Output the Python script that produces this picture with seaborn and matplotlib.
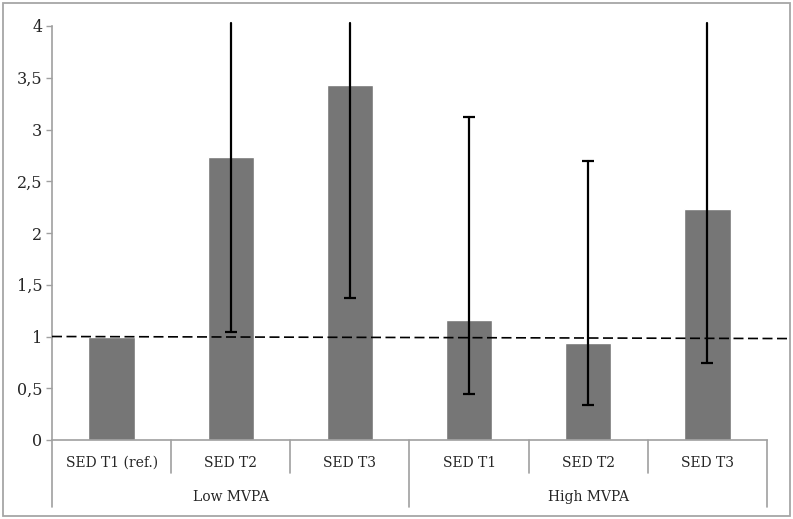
import numpy as np
import pandas as pd
import matplotlib
matplotlib.use("Agg")
import matplotlib.pyplot as plt
import matplotlib.patches as mpatches
import matplotlib.transforms as mtrans
import seaborn as sns

# values (odds ratios with 95% CI)
groups = ["Low MVPA", "Low MVPA", "Low MVPA", "High MVPA", "High MVPA", "High MVPA"]
labels = ["SED T1 (ref.)", "SED T2", "SED T3", "SED T1", "SED T2", "SED T3"]
odds = [1.00, 2.73, 3.43, 1.16, 0.94, 2.23]
ci_low = [1.00, 1.04, 1.37, 0.44, 0.34, 0.74]
# upper limits above 4 run off the top of the reference plot, drawn to its edge
ci_high = [1.00, 4.03, 4.03, 3.12, 2.70, 4.03]
ref_value = 1.0
yticks = [0, 0.5, 1, 1.5, 2, 2.5, 3, 3.5, 4]

sns.set_style("white")
plt.rcParams["font.family"] = ["DejaVu Serif"]

df = pd.DataFrame({"key": [g + " " + l for g, l in zip(groups, labels)], "odds": odds})

fig = plt.figure(figsize=(7.93, 5.19), dpi=100)
W, H = 793, 519
ax = fig.add_axes([52 / W, 1 - 440 / H, (767 - 52) / W, (440 - 26) / H])

sns.barplot(data=df, x="key", y="odds", order=list(df["key"]), color="#767676",
            saturation=1, width=0.39, ax=ax)

ax.set_xlim(-0.5, len(odds) - 0.5)
ax.set_ylim(0, 4)
ax.set_yticks(yticks)
ax.set_yticklabels([("%g" % t).replace(".", ",") for t in yticks], fontsize=11.5)
ax.set_xticks([])
ax.set_xlabel("")
ax.set_ylabel("")
ax.tick_params(axis="y", left=True, length=4, width=1, color="#a0a0a0", pad=3)

for side in ["top", "right"]:
    ax.spines[side].set_visible(False)
for side in ["left", "bottom"]:
    ax.spines[side].set_color("#a0a0a0")
    ax.spines[side].set_linewidth(1.2)

# reference line at OR = 1
ax.plot([-0.5, len(odds) - 0.5 + 0.19], [ref_value, ref_value * 0.98], color="black",
        lw=1.2, dashes=(6, 2.7), clip_on=False, zorder=4)

# error bars
xs = np.arange(len(odds))
for x, lo, hi in zip(xs, ci_low, ci_high):
    if hi - lo < 1e-9:
        continue
    ax.plot([x, x], [lo, hi], color="black", lw=1.6, clip_on=False, zorder=5)
    ax.plot([x], [lo], marker="_", ms=8, mew=1.6, color="black", clip_on=False, zorder=5)
    if hi < 4:
        ax.plot([x], [hi], marker="_", ms=8, mew=1.6, color="black", clip_on=False, zorder=5)

# two-level category axis
trans = mtrans.blended_transform_factory(ax.transData, ax.transAxes)
inner_bottom = -(473 - 440) / (440 - 26)
outer_bottom = -(507 - 440) / (440 - 26)
for i in range(len(labels) + 1):
    xb = i - 0.5
    new_group = i == 0 or i == len(labels) or groups[i] != groups[i - 1]
    ax.plot([xb, xb], [0, outer_bottom if new_group else inner_bottom], color="#a0a0a0",
            lw=1.2, transform=trans, clip_on=False)
for x, lab in zip(xs, labels):
    ax.text(x, -(463 - 440) / (440 - 26), lab, transform=trans, ha="center", va="center",
            fontsize=10)
start = 0
for i in range(1, len(groups) + 1):
    if i == len(groups) or groups[i] != groups[start]:
        ax.text((start + i - 1) / 2, -(497 - 440) / (440 - 26), groups[start], transform=trans,
                ha="center", va="center", fontsize=10)
        start = i

# outer chart border
fig.patches.append(mpatches.Rectangle((3 / W, 3 / H), (790 - 3) / W, (516 - 3) / H,
                                      transform=fig.transFigure, fill=False,
                                      edgecolor="#a6a6a6", lw=1.3))

fig.savefig("out.png", dpi=100)
